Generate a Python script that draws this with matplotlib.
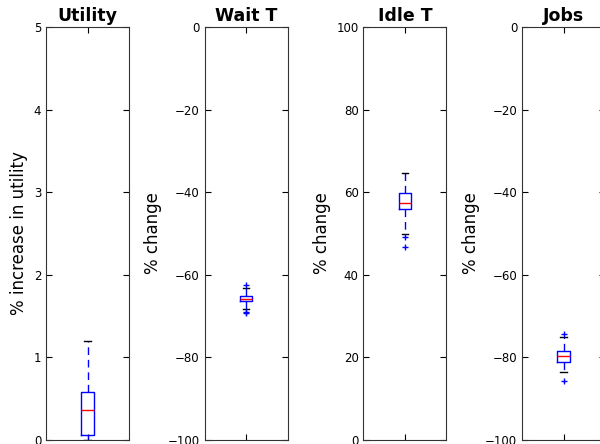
import matplotlib
matplotlib.use("Agg")
import matplotlib.pyplot as plt

# box statistics
titles = ["Utility", "Wait T", "Idle T", "Jobs"]
ylabels = ["% increase in utility", "% change", "% change", "% change"]
ylims = [(0, 5), (-100, 0), (0, 100), (-100, 0)]
yticks = [[0, 1, 2, 3, 4, 5],
          [-100, -80, -60, -40, -20, 0],
          [0, 20, 40, 60, 80, 100],
          [-100, -80, -60, -40, -20, 0]]

whislo = [0.0, -68.4, 49.9, -83.5]
q1 = [0.06, -66.4, 55.9, -81.1]
med = [0.36, -65.9, 57.4, -79.7]
q3 = [0.58, -65.1, 59.9, -78.5]
whishi = [1.2, -63.3, 64.7, -75.0]
fliers = [[], [-62.5, -68.9, -69.3], [49.1, 46.7], [-74.3, -85.7]]

fig = plt.figure(figsize=(6, 4.44), dpi=100, facecolor="white")

for i in range(4):
    left = (46 + i * 158.7) / 600
    ax = fig.add_axes([left, 4 / 444, 83 / 600, 413 / 444])
    stats = [{"whislo": whislo[i], "q1": q1[i], "med": med[i], "q3": q3[i],
              "whishi": whishi[i], "fliers": fliers[i]}]
    ax.bxp(stats, positions=[1], widths=0.15,
           boxprops=dict(color="blue", linewidth=1),
           whiskerprops=dict(color="blue", linestyle="--", linewidth=1,
                             dashes=(5.5, 3.5)),
           capprops=dict(color="black", linewidth=1),
           medianprops=dict(color="red", linewidth=1),
           flierprops=dict(marker="+", markeredgecolor="blue", markersize=5,
                           linestyle="none"))
    ax.set_xlim(0.5, 1.5)
    ax.set_ylim(*ylims[i])
    ax.set_yticks(yticks[i])
    ax.set_xticks([1])
    ax.set_xticklabels([""])
    ax.tick_params(direction="in", top=True, right=True, labelsize=8.5,
                   length=4, pad=3.5)
    for s in ax.spines.values():
        s.set_color("#333333")
    ax.set_title(titles[i], fontsize=12.5, fontweight="bold", pad=4)
    ax.set_ylabel(ylabels[i], fontsize=12, labelpad=4)

fig.savefig("out.png", dpi=100, facecolor="white")
